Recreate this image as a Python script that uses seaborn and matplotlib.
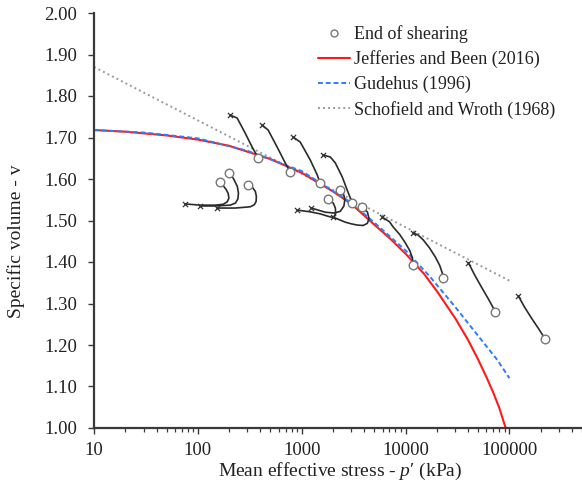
import matplotlib
matplotlib.use('Agg')
import matplotlib.pyplot as plt
from matplotlib.lines import Line2D
from matplotlib.ticker import FixedLocator, LogLocator, NullFormatter
import pandas as pd
import seaborn as sns

# Critical state lines (p' in kPa, specific volume v)
jb_p = [10, 20, 50, 100, 200, 500, 1000, 2000, 3000, 5000, 7000, 10000, 15000, 20000,
        30000, 40000, 50000, 60000, 70000, 80000, 92000]
jb_v = [1.718, 1.714, 1.705, 1.695, 1.680, 1.648, 1.615, 1.570, 1.540, 1.490, 1.458, 1.420,
        1.372, 1.330, 1.265, 1.212, 1.165, 1.123, 1.085, 1.048, 1.000]

gud_p = [10, 30, 100, 300, 1000, 3000, 5000, 10000, 17000, 30000, 50000, 76500, 100000]
gud_v = [1.718, 1.712, 1.698, 1.668, 1.619, 1.543, 1.495, 1.428, 1.366, 1.292, 1.222, 1.164, 1.120]

sw_p = [10, 100000]
sw_v = [1.870, 1.355]

# Stress paths: start (x) to end of shearing (o)
path_01 = ([205, 239, 285, 333, 381], [1.754, 1.747, 1.711, 1.677, 1.651])
path_02 = ([416, 475, 580, 693, 774], [1.730, 1.718, 1.677, 1.639, 1.617])
path_03 = ([828, 968, 1208, 1410, 1507], [1.701, 1.689, 1.646, 1.610, 1.590])
path_04 = ([1610, 1884, 2104, 2456, 2746, 3069], [1.658, 1.653, 1.639, 1.605, 1.573, 1.542])
path_05 = ([5970, 7000, 7620, 8800, 9950, 11000, 11620, 11890],
           [1.508, 1.497, 1.484, 1.466, 1.446, 1.427, 1.410, 1.393])
path_06 = ([11890, 13200, 14830, 17000, 19360, 21300, 22600, 23100],
           [1.470, 1.465, 1.453, 1.434, 1.412, 1.392, 1.373, 1.361])
path_07 = ([40300, 46000, 53700, 63000, 73300], [1.398, 1.370, 1.340, 1.310, 1.280])
path_08 = ([122000, 140000, 163000, 190000, 222000], [1.318, 1.291, 1.265, 1.240, 1.214])
path_09 = ([75, 105, 147, 175, 192, 199, 196, 187, 164],
           [1.540, 1.537, 1.537, 1.539, 1.545, 1.554, 1.565, 1.575, 1.593])
path_10 = ([105, 147, 205, 230, 243, 246, 240, 219, 200],
           [1.535, 1.535, 1.537, 1.542, 1.552, 1.566, 1.582, 1.602, 1.614])
path_11 = ([153, 229, 319, 350, 364, 366, 358, 335, 305],
           [1.530, 1.530, 1.533, 1.538, 1.546, 1.558, 1.570, 1.580, 1.586])
path_12 = ([905, 1200, 1507, 1800, 2013, 2120, 2110, 2013, 1800],
           [1.525, 1.521, 1.516, 1.510, 1.507, 1.516, 1.530, 1.542, 1.552])
path_13 = ([1235, 1685, 2050, 2350, 2550, 2600, 2540, 2350],
            [1.530, 1.520, 1.518, 1.522, 1.535, 1.550, 1.562, 1.573])
path_14 = ([2013, 2626, 3000, 3428, 3900, 4280, 4450, 4300, 3830],
           [1.508, 1.496, 1.492, 1.489, 1.488, 1.493, 1.504, 1.520, 1.533])

paths = [path_01, path_02, path_03, path_04, path_05, path_06, path_07,
         path_08, path_09, path_10, path_11, path_12, path_13, path_14]

x_ticks = [10, 100, 1000, 10000, 100000]
y_ticks = [1.00, 1.10, 1.20, 1.30, 1.40, 1.50, 1.60, 1.70, 1.80, 1.90, 2.00]

sns.set_theme(style='ticks')
plt.rcParams['font.family'] = ['Liberation Serif', 'DejaVu Serif']
plt.rcParams['mathtext.fontset'] = 'custom'
plt.rcParams['mathtext.rm'] = 'Liberation Serif'
plt.rcParams['mathtext.it'] = 'Liberation Serif:italic'

fig = plt.figure(figsize=(5.82, 4.87), dpi=100)
ax = fig.add_axes([94 / 582, 59 / 487, 488 / 582, 415 / 487])
ax.set_xscale('log')

# stress paths
for pp, vv in paths:
    df = pd.DataFrame({'p': pp, 'v': vv})
    sns.lineplot(data=df, x='p', y='v', sort=False, estimator=None, color='#2b2b2b',
                 lw=1.2, ax=ax, zorder=3)

starts = pd.DataFrame({'p': [pth[0][0] for pth in paths], 'v': [pth[1][0] for pth in paths]})
ends = pd.DataFrame({'p': [pth[0][-1] for pth in paths], 'v': [pth[1][-1] for pth in paths]})

sns.lineplot(x=sw_p, y=sw_v, color='#9a9a9a', lw=1.4, ls=(0, (1, 1.6)), ax=ax, zorder=2)
sns.lineplot(x=jb_p, y=jb_v, color='#ff1a1a', lw=1.5, ax=ax, zorder=2)
sns.lineplot(x=gud_p, y=gud_v, color='#2f7bff', lw=1.4, ls=(0, (2.5, 1.5)), ax=ax, zorder=2)

sns.scatterplot(data=starts, x='p', y='v', marker='x', s=14, color='#333333',
                linewidth=0.9, ax=ax, zorder=4)
sns.scatterplot(data=ends, x='p', y='v', marker='o', s=38, facecolor='white',
                edgecolor='#777777', linewidth=1.0, ax=ax, zorder=5)

ax.set_xlim(10, 500000)
ax.set_ylim(1.0, 2.0)
ax.xaxis.set_major_locator(FixedLocator(x_ticks))
ax.set_xticklabels([str(t) for t in x_ticks])
ax.xaxis.set_minor_locator(LogLocator(base=10, subs=range(2, 10), numticks=20))
ax.xaxis.set_minor_formatter(NullFormatter())
ax.set_yticks(y_ticks)
ax.set_yticklabels(['%.2f' % t for t in y_ticks])

sns.despine(ax=ax)
for s in ['left', 'bottom']:
    ax.spines[s].set_color('#3a3a3a')
    ax.spines[s].set_linewidth(1.6)
ax.tick_params(axis='both', which='major', labelsize=13.5, colors='#3a3a3a',
               labelcolor='#222222', length=4, width=1.0, direction='out')
ax.tick_params(axis='x', which='major', pad=6)
ax.tick_params(axis='y', which='major', pad=8)
ax.tick_params(axis='x', which='minor', length=3, width=0.9, colors='#3a3a3a')

ax.set_xlabel("Mean effective stress - $p$\u2032 (kPa)", fontsize=14, color='#222222')
ax.set_ylabel('Specific volume - v', fontsize=14, color='#222222')
ax.xaxis.set_label_coords(0.504, -0.104)
ax.xaxis.label.set_va('center')
ax.yaxis.set_label_coords(-0.16, 0.45)
ax.yaxis.label.set_va('center')

handles = [
    Line2D([], [], marker='o', ls='none', mfc='white', mec='#777777', ms=5, mew=1.0),
    Line2D([], [], color='#ff1a1a', lw=1.5),
    Line2D([], [], color='#2f7bff', lw=1.4, ls=(0, (2.5, 1.5))),
    Line2D([], [], color='#9a9a9a', lw=1.4, ls=(0, (1, 1.6))),
]
labels = ['End of shearing', 'Jefferies and Been (2016)', 'Gudehus (1996)',
          'Schofield and Wroth (1968)']
fig.legend(handles, labels, loc='upper left', bbox_to_anchor=(318 / 582, 1 - 25 / 487),
           frameon=False, fontsize=13, handlelength=1.75, handletextpad=0.25,
           labelspacing=0.42, borderpad=0, borderaxespad=0, labelcolor='#222222')

fig.savefig('out.png', dpi=100)
